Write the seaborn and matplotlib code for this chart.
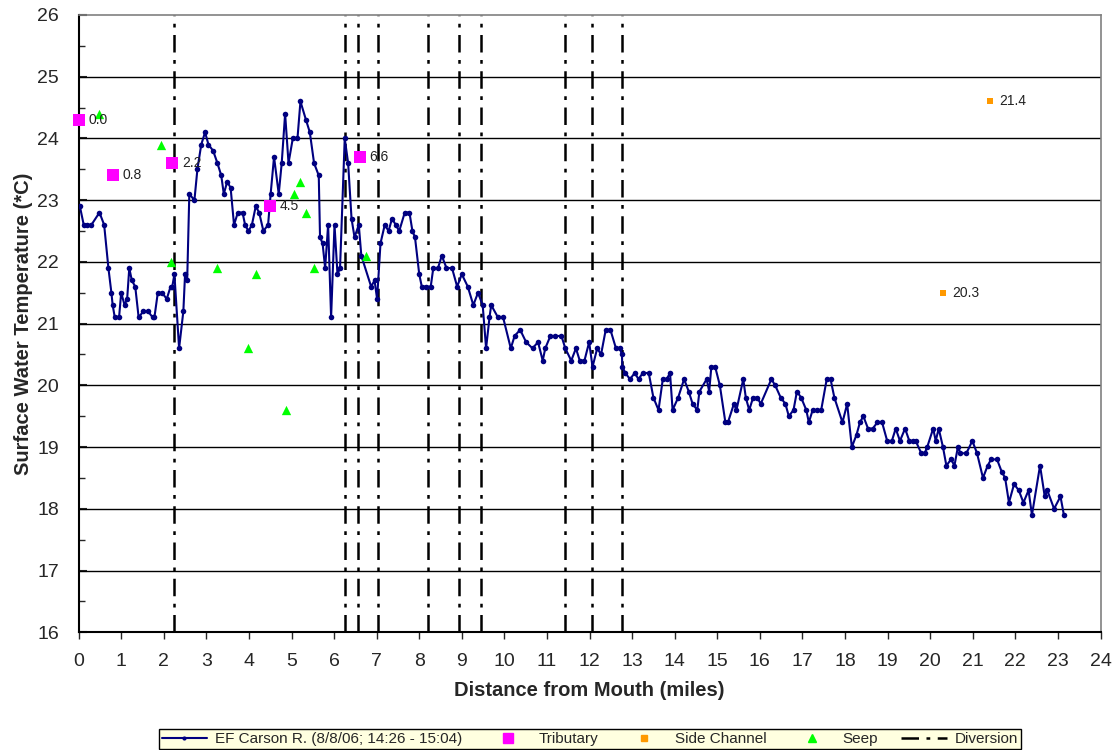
import numpy as np
import pandas as pd
import seaborn as sns
import matplotlib
matplotlib.use('Agg')
import matplotlib.pyplot as plt
from matplotlib.lines import Line2D

# EF Carson R. longitudinal profile (miles from mouth, deg C)
dist = [0.03, 0.12, 0.2, 0.3, 0.49, 0.6, 0.7, 0.77, 0.8, 0.85, 0.95, 1.0, 1.08, 1.14, 1.19,
        1.25, 1.33, 1.41, 1.52, 1.63, 1.74, 1.78, 1.86, 1.96, 2.07, 2.16, 2.2, 2.25, 2.36,
        2.46, 2.5, 2.55, 2.6, 2.72, 2.79, 2.88, 2.97, 3.05, 3.16, 3.26, 3.35, 3.41, 3.49,
        3.57, 3.65, 3.74, 3.85, 3.91, 3.99, 4.07, 4.16, 4.24, 4.34, 4.45, 4.51, 4.59, 4.7,
        4.77, 4.85, 4.93, 5.03, 5.14, 5.21, 5.34, 5.43, 5.53, 5.64, 5.67, 5.73, 5.79, 5.86,
        5.93, 6.01, 6.08, 6.14, 6.25, 6.33, 6.41, 6.48, 6.58, 6.64, 6.87, 6.95, 7.01, 7.09,
        7.19, 7.28, 7.36, 7.45, 7.53, 7.66, 7.77, 7.84, 7.9, 8.0, 8.06, 8.17, 8.27, 8.33,
        8.44, 8.53, 8.64, 8.77, 8.89, 9.0, 9.14, 9.27, 9.38, 9.49, 9.57, 9.65, 9.69, 9.85,
        9.97, 10.15, 10.24, 10.37, 10.51, 10.66, 10.79, 10.9, 10.96, 11.08, 11.19, 11.34,
        11.43, 11.57, 11.68, 11.77, 11.88, 11.99, 12.07, 12.18, 12.27, 12.38, 12.49, 12.62,
        12.71, 12.76, 12.77, 12.84, 12.95, 13.06, 13.15, 13.25, 13.39, 13.5, 13.62, 13.72,
        13.81, 13.89, 13.95, 14.08, 14.22, 14.33, 14.42, 14.53, 14.58, 14.75, 14.81, 14.86,
        14.95, 15.06, 15.19, 15.25, 15.39, 15.45, 15.61, 15.67, 15.75, 15.84, 15.94, 16.02,
        16.27, 16.36, 16.49, 16.6, 16.68, 16.79, 16.87, 16.97, 17.09, 17.15, 17.24, 17.33,
        17.44, 17.57, 17.66, 17.75, 17.94, 18.05, 18.16, 18.27, 18.35, 18.43, 18.54, 18.65,
        18.76, 18.87, 18.99, 19.1, 19.19, 19.29, 19.41, 19.51, 19.6, 19.66, 19.79, 19.87,
        19.93, 20.07, 20.13, 20.2, 20.3, 20.38, 20.49, 20.57, 20.65, 20.71, 20.85, 20.99,
        21.1, 21.24, 21.35, 21.43, 21.57, 21.68, 21.76, 21.85, 21.97, 22.08, 22.19, 22.31,
        22.39, 22.58, 22.69, 22.75, 22.91, 23.06, 23.14]
temp = [22.9, 22.6, 22.6, 22.6, 22.8, 22.6, 21.9, 21.5, 21.3, 21.1, 21.1, 21.5, 21.3, 21.4, 21.9,
        21.7, 21.6, 21.1, 21.2, 21.2, 21.1, 21.1, 21.5, 21.5, 21.4, 21.6, 21.6, 21.8, 20.6,
        21.2, 21.8, 21.7, 23.1, 23.0, 23.5, 23.9, 24.1, 23.9, 23.8, 23.6, 23.4, 23.1, 23.3,
        23.2, 22.6, 22.8, 22.8, 22.6, 22.5, 22.6, 22.9, 22.8, 22.5, 22.6, 23.1, 23.7, 23.1,
        23.6, 24.4, 23.6, 24.0, 24.0, 24.6, 24.3, 24.1, 23.6, 23.4, 22.4, 22.3, 21.9, 22.6,
        21.1, 22.6, 21.8, 21.9, 24.0, 23.6, 22.7, 22.4, 22.6, 22.1, 21.6, 21.7, 21.4, 22.3,
        22.6, 22.5, 22.7, 22.6, 22.5, 22.8, 22.8, 22.5, 22.4, 21.8, 21.6, 21.6, 21.6, 21.9,
        21.9, 22.1, 21.9, 21.9, 21.6, 21.8, 21.6, 21.3, 21.5, 21.3, 20.6, 21.1, 21.3, 21.1,
        21.1, 20.6, 20.8, 20.9, 20.7, 20.6, 20.7, 20.4, 20.6, 20.8, 20.8, 20.8,
        20.6, 20.4, 20.6, 20.4, 20.4, 20.7, 20.3, 20.6, 20.5, 20.9, 20.9, 20.6,
        20.6, 20.5, 20.3, 20.2, 20.1, 20.2, 20.1, 20.2, 20.2, 19.8, 19.6, 20.1,
        20.1, 20.2, 19.6, 19.8, 20.1, 19.9, 19.7, 19.6, 19.9, 20.1, 19.9, 20.3,
        20.3, 20.0, 19.4, 19.4, 19.7, 19.6, 20.1, 19.8, 19.6, 19.8, 19.8, 19.7,
        20.1, 20.0, 19.8, 19.7, 19.5, 19.6, 19.9, 19.8, 19.6, 19.4, 19.6, 19.6,
        19.6, 20.1, 20.1, 19.8, 19.4, 19.7, 19.0, 19.2, 19.4, 19.5, 19.3, 19.3,
        19.4, 19.4, 19.1, 19.1, 19.3, 19.1, 19.3, 19.1, 19.1, 19.1, 18.9, 18.9,
        19.0, 19.3, 19.1, 19.3, 19.0, 18.7, 18.8, 18.7, 19.0, 18.9, 18.9, 19.1,
        18.9, 18.5, 18.7, 18.8, 18.8, 18.6, 18.5, 18.1, 18.4, 18.3, 18.1, 18.3,
        17.9, 18.7, 18.2, 18.3, 18.0, 18.2, 17.9]

trib_dist = [0.0, 0.8, 2.2, 4.5, 6.6]
trib_temp = [24.3, 23.4, 23.6, 22.9, 23.7]
trib_labels = ['0.0', '0.8', '2.2', '4.5', '6.6']

side_dist = [21.4, 20.3]
side_temp = [24.6, 21.5]
side_labels = ['21.4', '20.3']

seep_dist = [0.48, 1.93, 2.16, 3.25, 3.98, 4.16, 4.86, 5.05, 5.21, 5.34, 5.54, 6.76]
seep_temp = [24.4, 23.9, 22.0, 21.9, 20.6, 21.8, 19.6, 23.1, 23.3, 22.8, 21.9, 22.1]

diversions = [2.25, 6.25, 6.55, 7.02, 8.2, 8.94, 9.46, 11.43, 12.06, 12.76]

river = pd.DataFrame({'dist': dist, 'temp': temp})
trib = pd.DataFrame({'dist': trib_dist, 'temp': trib_temp})
side = pd.DataFrame({'dist': side_dist, 'temp': side_temp})
seep = pd.DataFrame({'dist': seep_dist, 'temp': seep_temp})

sns.set_style('white')
plt.rcParams['font.family'] = ['Liberation Sans', 'DejaVu Sans']

fig = plt.figure(figsize=(11.15, 7.5), dpi=100)
ax = fig.add_axes([0.0705, 0.157, 0.9165, 0.823])

# horizontal grid
for yv in range(17, 26):
    ax.axhline(yv, color='black', lw=1.0, zorder=1)

# diversions
for d in diversions:
    ax.axvline(d, color='black', lw=1.8, dashes=(7, 3, 1.5, 3), zorder=2)

sns.lineplot(data=river, x='dist', y='temp', ax=ax, sort=False, estimator=None,
             color='#000080', lw=1.5, marker='o', markersize=4, markeredgewidth=0, zorder=4)
sns.scatterplot(data=trib, x='dist', y='temp', ax=ax, color='#FF00FF', marker='s',
                s=75, linewidth=0, zorder=5, clip_on=False)
sns.scatterplot(data=side, x='dist', y='temp', ax=ax, color='#FF9900', marker='s',
                s=22, linewidth=0, zorder=5)
sns.scatterplot(data=seep, x='dist', y='temp', ax=ax, color='#00FF00', marker='^',
                s=45, linewidth=0, zorder=5)

for x, y, t in zip(trib_dist, trib_temp, trib_labels):
    ax.annotate(t, (x, y), xytext=(7, 0), textcoords='offset points', va='center',
                fontsize=10, color='#222222', zorder=6)
for x, y, t in zip(side_dist, side_temp, side_labels):
    ax.annotate(t, (x, y), xytext=(7, 0), textcoords='offset points', va='center',
                fontsize=10, color='#222222', zorder=6)

ax.set_xlim(0, 24)
ax.set_ylim(16, 26)
ax.set_xticks(range(0, 25))
ax.set_yticks(range(16, 27))
ax.set_yticks(np.arange(16.5, 26, 1.0), minor=True)
ax.tick_params(axis='x', direction='out', length=5, width=1, labelsize=14, pad=10, bottom=True)
ax.tick_params(axis='y', which='major', direction='in', length=6, width=1.5, labelsize=14, pad=14, left=True)
ax.tick_params(axis='y', which='minor', direction='in', length=4, width=1, left=True)

for s in ['left', 'bottom']:
    ax.spines[s].set_color('black')
    ax.spines[s].set_linewidth(1.5)
for s in ['top', 'right']:
    ax.spines[s].set_color('#808080')
    ax.spines[s].set_linewidth(1.2)

ax.set_xlabel('Distance from Mouth (miles)', fontsize=14.5, fontweight='bold', labelpad=8)
ax.set_ylabel('Surface Water Temperature (*C)', fontsize=14.5, fontweight='bold', labelpad=3)

handles = [
    Line2D([], [], color='#000080', lw=1.5, marker='o', markersize=3, markeredgewidth=0),
    Line2D([], [], ls='none', color='#FF00FF', marker='s', markersize=7),
    Line2D([], [], ls='none', color='#FF9900', marker='s', markersize=4.5),
    Line2D([], [], ls='none', color='#00FF00', marker='^', markersize=6),
    Line2D([], [], color='black', lw=1.8, dashes=(7, 3, 1.5, 3)),
]
labels = ['EF Carson R. (8/8/06; 14:26 - 15:04)', 'Tributary', 'Side Channel', 'Seep', 'Diversion']
leg = fig.legend(handles, labels, loc='center', bbox_to_anchor=(0.529, 0.0147), ncol=5,
                 fontsize=11, frameon=True, fancybox=False, borderpad=0.2, handlelength=3.0,
                 columnspacing=1.5, handletextpad=0.5)
leg.get_frame().set_facecolor('#FFFFE0')
leg.get_frame().set_edgecolor('black')
leg.get_frame().set_linewidth(1.0)
leg.get_frame().set_alpha(1)

fig.savefig('out.png', dpi=100)
